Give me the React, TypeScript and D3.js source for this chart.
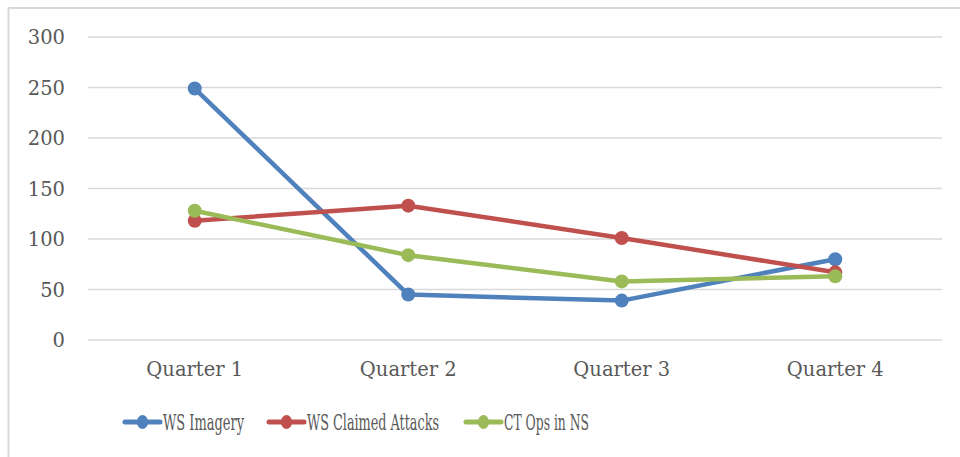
import * as d3 from "d3";

const quarters = ["Quarter 1", "Quarter 2", "Quarter 3", "Quarter 4"];
const wsImagery = [249, 45, 39, 80];
const wsClaimed = [118, 133, 101, 67];
const ctOps = [128, 84, 58, 63];
const yTicks = [0, 50, 100, 150, 200, 250, 300];

const series = [
  { name: "WS Imagery", values: wsImagery, color: "#4F81BD" },
  { name: "WS Claimed Attacks", values: wsClaimed, color: "#C0504D" },
  { name: "CT Ops in NS", values: ctOps, color: "#9BBB59" },
];

// legend placement (line start x, text width)
const legendX = [125, 269, 466];
const legendTextW = [81, 132, 85];

const W = 960;
const H = 457;
const plot = { left: 88, right: 942, top: 37, bottom: 340 };

export default function App() {
  const x = d3
    .scalePoint<string>()
    .domain(quarters)
    .range([plot.left, plot.right])
    .padding(0.5);
  const y = d3.scaleLinear().domain([0, 300]).range([plot.bottom, plot.top]);

  const line = d3
    .line<number>()
    .x((_, i) => x(quarters[i])!)
    .y((d) => y(d));

  const axisFont = "'DejaVu Serif', serif";
  const textColor = "#595959";

  return (
    <div style={{ position: "fixed", left: 0, top: 0 }}>
      <svg width={W} height={H} style={{ display: "block", background: "#fff" }}>
        <rect
          x={8.5}
          y={8}
          width={W + 20}
          height={H + 20}
          fill="#fff"
          stroke="#D9D9D9"
          strokeWidth={2}
        />
        {yTicks.map((t) => (
          <g key={t}>
            <line
              x1={plot.left}
              x2={plot.right}
              y1={y(t)}
              y2={y(t)}
              stroke="#D9D9D9"
              strokeWidth={1.5}
            />
            <text
              x={65}
              y={y(t)}
              dy="0.36em"
              textAnchor="end"
              fontFamily={axisFont}
              fontSize={19.5}
              fill={textColor}
            >
              {t}
            </text>
          </g>
        ))}
        {quarters.map((q) => (
          <text
            key={q}
            x={x(q)}
            y={376}
            textAnchor="middle"
            fontFamily={axisFont}
            fontSize={19.5}
            fill={textColor}
          >
            {q}
          </text>
        ))}
        {series.map((s) => (
          <g key={s.name}>
            <path
              d={line(s.values)!}
              fill="none"
              stroke={s.color}
              strokeWidth={4.5}
              strokeLinejoin="round"
            />
            {s.values.map((v, i) => (
              <circle key={i} cx={x(quarters[i])} cy={y(v)} r={7} fill={s.color} />
            ))}
          </g>
        ))}
        {series.map((s, i) => (
          <g key={s.name} transform={`translate(${legendX[i]},422)`}>
            <line x1={0} x2={35} y1={0} y2={0} stroke={s.color} strokeWidth={5} strokeLinecap="round" />
            <ellipse cx={17.5} cy={0} rx={5.5} ry={7} fill={s.color} />
            <text
              x={38}
              y={8}
              fontFamily="'DejaVu Serif Condensed', 'DejaVu Serif', serif"
              fontStretch="condensed"
              fontSize={23}
              fill={textColor}
              textLength={legendTextW[i]}
              lengthAdjust="spacingAndGlyphs"
            >
              {s.name}
            </text>
          </g>
        ))}
      </svg>
    </div>
  );
}
